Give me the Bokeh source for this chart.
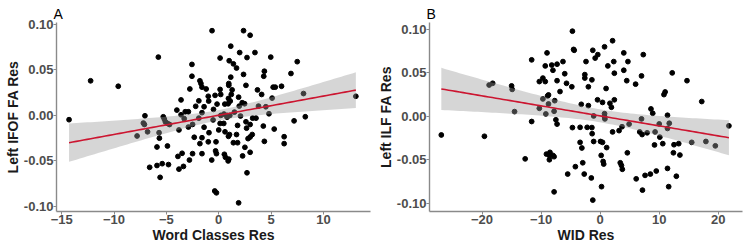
import numpy as np
from bokeh.plotting import figure
from bokeh.layouts import row
from bokeh.models import Range1d, FixedTicker, NumeralTickFormatter
from bokeh.embed import file_html
from bokeh.resources import INLINE

# Panel A: word classes residuals vs left IFOF FA residuals
word_classes_res = [
    -0.64, 2.37, 3.0, 1.15, 3.46, 2.0, 0.13, 2.7, -5.77, 4.97, 7.5, 1.0, 1.4, 1.7,
    -2.56, 6.9, 4.36, 2.37, 4.3, -2.56, 1.15, -12.24, -9.6, -1.8, -1.7, 0.96, 0.96,
    2.6, 5.2, 5.4, 6.0, -2.76, -1.2, 0.13, 1.28, 0.19, -1.6, 3.7, 4.1, -0.35, -1.0,
    1.2, 1.9, 8.1, 13.1, -3.6, -1.9, 0.93, 1.1, -0.96, -2.2, -1.4, -0.5, -0.16, 0.58,
    0.9, 2.24, 2.47, 1.96, 3.8, 4.5, 5.1, -4.0, -3.2, -2.9, -3.6, -1.6, 0.5, 0.8,
    1.06, 1.5, 2.08, 3.24, 3.56, 4.8, 8.27, 7.2, -14.3, -7.05, -5.3, -5.2, -5.1,
    -4.9, -4.7, -7.2, -7.1, -3.3, -1.9, -0.54, 0.8, 0.13, 0.48, 1.8, 2.6, 3.0, 4.26,
    -1.4, -2.9, -6.8, -7.8, -5.7, -3.8, -2.5, -0.93, 0.0, 0.6, 1.03, 1.7, 2.66, 3.2,
    3.0, 2.8, 5.3, 6.25, 6.25, 4.36, -5.67, -2.34, -1.6, -1.8, -1.0, -0.26, 0.93,
    1.4, 1.8, 2.5, -5.9, -4.9, -3.5, -3.9, -2.5, -1.6, -0.3, -0.22, 0.54, 0.64, 0.96,
    0.9, 2.28, 3.0, -2.8, -3.37, -3.8, -4.8, -5.4, -5.9, -6.6, -5.6, -0.67, 2.7,
    -0.38, -0.22, 1.9, 0.2,
]
ifof_fa_res = [
    0.093, 0.093, 0.088, 0.076, 0.069, 0.069, 0.063, 0.0635, 0.064, 0.064, 0.059,
    0.060, 0.0566, 0.052, 0.056, 0.046, 0.0485, 0.045, 0.043, 0.043, 0.042, 0.038,
    0.032, 0.038, 0.035, 0.035, 0.033, 0.033, 0.031, 0.031, 0.032, 0.029, 0.029,
    0.0285, 0.028, 0.023, 0.031, 0.028, 0.023, 0.022, 0.021, 0.023, 0.020, 0.024,
    0.021, 0.017, 0.016, 0.0186, 0.0157, 0.0157, 0.010, 0.0095, 0.0066, 0.0124,
    0.0124, 0.0128, 0.0139, 0.0128, 0.0102, 0.0102, 0.0095, 0.019, 0.0058, 0.004,
    0.004, 0.0007, 0.003, 0.0015, 0.0, 0.0, 0.0036, -0.0007, -0.003, -0.003, 0.0018,
    -0.0015, -0.006, -0.0047, -0.0004, -0.0015, -0.004, -0.007, -0.0088, -0.010,
    -0.0084, -0.010, -0.0036, -0.003, -0.005, -0.002, -0.0088, -0.0088, -0.011,
    -0.007, -0.010, -0.0117, -0.013, -0.0128, -0.018, -0.0226, -0.019, -0.016,
    -0.0099, -0.019, -0.016, -0.018, -0.021, -0.021, -0.014, -0.021, -0.0237,
    -0.0255, -0.015, -0.0234, -0.031, -0.0285, -0.025, -0.024, -0.0245, -0.031,
    -0.029, -0.029, -0.023, -0.030, -0.030, -0.035, -0.0347, -0.0336, -0.0416,
    -0.045, -0.042, -0.042, -0.039, -0.042, -0.0427, -0.046, -0.048, -0.050,
    -0.0445, -0.0405, -0.049, -0.056, -0.059, -0.054, -0.053, -0.055, -0.057,
    -0.068, -0.049, -0.063, -0.083, -0.085, -0.096, 0.0,
]

# Panel B: WID residuals vs left ILF FA residuals
wid_res = [
    -4.7, 2.1, -4.5, -4.4, -1.25, 0.74, -9.0, 4.0, 7.3, -0.4, -0.85, -6.3, -11.6,
    -2.4, 2.3, 4.7, -9.3, -8.2, -7.3, -8.0, 1.3, 2.4, 4.0, -6.0, -2.6, -2.6, -1.4,
    -9.7, -10.3, -9.3, -7.3, -5.7, -4.8, -6.8, 4.5, 7.0, 6.0, 12.2, 14.7, -18.8,
    -18.2, -15.0, -14.9, -2.0, 1.0, 11.0, 10.8, 17.2, -8.75, -8.9, -9.7, -7.7,
    -0.45, 0.4, 1.65, 2.4, 1.9, -3.2, -2.0, -10.3, -8.75, -7.8, -14.5, -9.2, -1.1,
    0.74, 0.74, 0.8, 8.6, 8.9, 11.4, 7.0, -7.5, -7.3, -11.6, -26.9, -19.6, -4.7,
    -3.4, -2.2, -1.4, -1.36, 2.1, 3.2, 3.7, 4.9, 6.7, 7.1, 7.95, 10.0, 11.7, 11.4,
    10.1, 9.3, 10.6, 9.2, 12.5, 13.3, 15.5, 17.9, 19.5, 21.8, 13.5, 12.4, 4.6, -3.4,
    -3.1, -1.1, 0.06, 0.4, 1.1, -9.1, -8.5, -8.6, -8.0, -7.8, -8.6, 0.17, 0.5, 0.6,
    -12.7, -2.95, -4.2, -2.7, -1.5, -5.5, 3.4, 3.6, 3.75, 6.1, 7.6, 8.5, 9.5, 11.4,
    12.9, 7.16, 11.6, 0.23, -7.8, -1.25,
]
ilf_fa_res = [
    0.098, 0.087, 0.077, 0.076, 0.076, 0.080, 0.073, 0.073, 0.071, 0.071, 0.067,
    0.063, 0.065, 0.063, 0.063, 0.063, 0.058, 0.059, 0.060, 0.053, 0.058, 0.0496,
    0.053, 0.049, 0.048, 0.044, 0.042, 0.044, 0.040, 0.040, 0.041, 0.038, 0.034,
    0.0285, 0.041, 0.0465, 0.037, 0.050, 0.041, 0.036, 0.038, 0.035, 0.031, 0.034,
    0.032, 0.028, 0.025, 0.017, 0.0246, 0.0235, 0.020, 0.018, 0.019, 0.016, 0.015,
    0.019, 0.0104, 0.0138, 0.0123, 0.0092, 0.0142, 0.0058, 0.0054, 0.0027, 0.0004,
    0.003, -0.0004, -0.003, 0.0085, 0.0035, 0.0012, -0.003, -0.004, -0.009, -0.006,
    -0.0215, -0.023, -0.013, -0.0127, -0.0127, -0.013, -0.020, -0.018, -0.0165,
    -0.012, -0.009, -0.018, -0.021, -0.019, -0.0088, -0.008, -0.014, -0.024, -0.018,
    -0.0315, -0.033, -0.0327, -0.0315, -0.030, -0.029, -0.034, -0.011, -0.0446,
    -0.042, -0.042, -0.030, -0.0365, -0.029, -0.029, -0.030, -0.036, -0.0435,
    -0.0415, -0.045, -0.045, -0.0465, -0.050, -0.045, -0.052, -0.055, -0.049,
    -0.0535, -0.058, -0.0665, -0.071, -0.0665, -0.0535, -0.0565, -0.061, -0.072,
    -0.068, -0.0665, -0.063, -0.060, -0.069, -0.085, -0.081, -0.081, -0.087, -0.0965,
]

y_ticks = [-0.10, -0.05, 0.00, 0.05, 0.10]
x_ticks_a = [-15, -10, -5, 0, 5, 10]
x_ticks_b = [-20, -10, 0, 10, 20]

FONT = "Liberation Sans"


def lm_band(x, y, n_grid=80, t_crit=1.975):
    """Ordinary least squares fit with a 95% confidence band for the mean."""
    x = np.asarray(x, float)
    y = np.asarray(y, float)
    n = len(x)
    slope, intercept = np.polyfit(x, y, 1)
    resid = y - (slope * x + intercept)
    s = np.sqrt(np.sum(resid ** 2) / (n - 2))
    xbar = x.mean()
    sxx = np.sum((x - xbar) ** 2)
    gx = np.linspace(x.min(), x.max(), n_grid)
    gy = slope * gx + intercept
    se = s * np.sqrt(1.0 / n + (gx - xbar) ** 2 / sxx)
    return gx, gy, gy - t_crit * se, gy + t_crit * se


def panel(tag, x, y, xlabel, ylabel, xr, yr, xticks, border_left, border_right):
    p = figure(width=374, height=245, output_backend="svg", toolbar_location=None,
               x_range=Range1d(*xr), y_range=Range1d(*yr),
               min_border_left=border_left, min_border_right=border_right,
               min_border_top=22, min_border_bottom=33)
    p.outline_line_color = None
    p.grid.visible = False
    p.background_fill_color = "white"
    p.border_fill_color = "white"

    p.title.text = tag
    p.title.text_font = FONT
    p.title.text_font_size = "14px"
    p.title.text_font_style = "normal"
    p.title.text_color = "black"
    p.title.standoff = 2
    p.title.offset = -3

    p.scatter(x, y, size=4.8, color="black")

    gx, gy, lo, hi = lm_band(x, y)
    p.varea(x=gx, y1=lo, y2=hi, fill_color="#999999", fill_alpha=0.4)
    p.line(gx, gy, line_color="#CC1530", line_width=1.6)

    for ax in (p.xaxis[0], p.yaxis[0]):
        ax.axis_line_color = "#8a8a8a"
        ax.axis_line_width = 1.4
        ax.major_tick_line_color = "#8a8a8a"
        ax.major_tick_out = 3
        ax.major_tick_in = 0
        ax.minor_tick_line_color = None
        ax.major_label_text_font = FONT
        ax.major_label_text_font_size = "13px"
        ax.major_label_text_font_style = "bold"
        ax.major_label_text_color = "#4d4d4d"
        ax.major_label_standoff = 0
        ax.axis_label_text_font = FONT
        ax.axis_label_text_font_size = "14px"
        ax.axis_label_text_font_style = "bold"
        ax.axis_label_text_color = "#1a1a1a"
        ax.axis_label_standoff = 0

    p.xaxis.ticker = FixedTicker(ticks=xticks)
    p.yaxis.ticker = FixedTicker(ticks=y_ticks)
    p.yaxis.formatter = NumeralTickFormatter(format="0.00")
    p.xaxis.axis_label = xlabel
    p.yaxis.axis_label = ylabel
    return p


pa = panel("A", word_classes_res, ifof_fa_res, "Word Classes Res", "Left IFOF FA Res",
           (-15.5, 14.5), (-0.1055, 0.102), x_ticks_a, 56, 4)
pb = panel("B", wid_res, ilf_fa_res, "WID Res", "Left ILF FA Res",
           (-28.9, 24.1), (-0.1096, 0.108), x_ticks_b, 54, 6)

layout = row(pa, pb, spacing=0)
open("out.html", "w").write(file_html(layout, INLINE))
